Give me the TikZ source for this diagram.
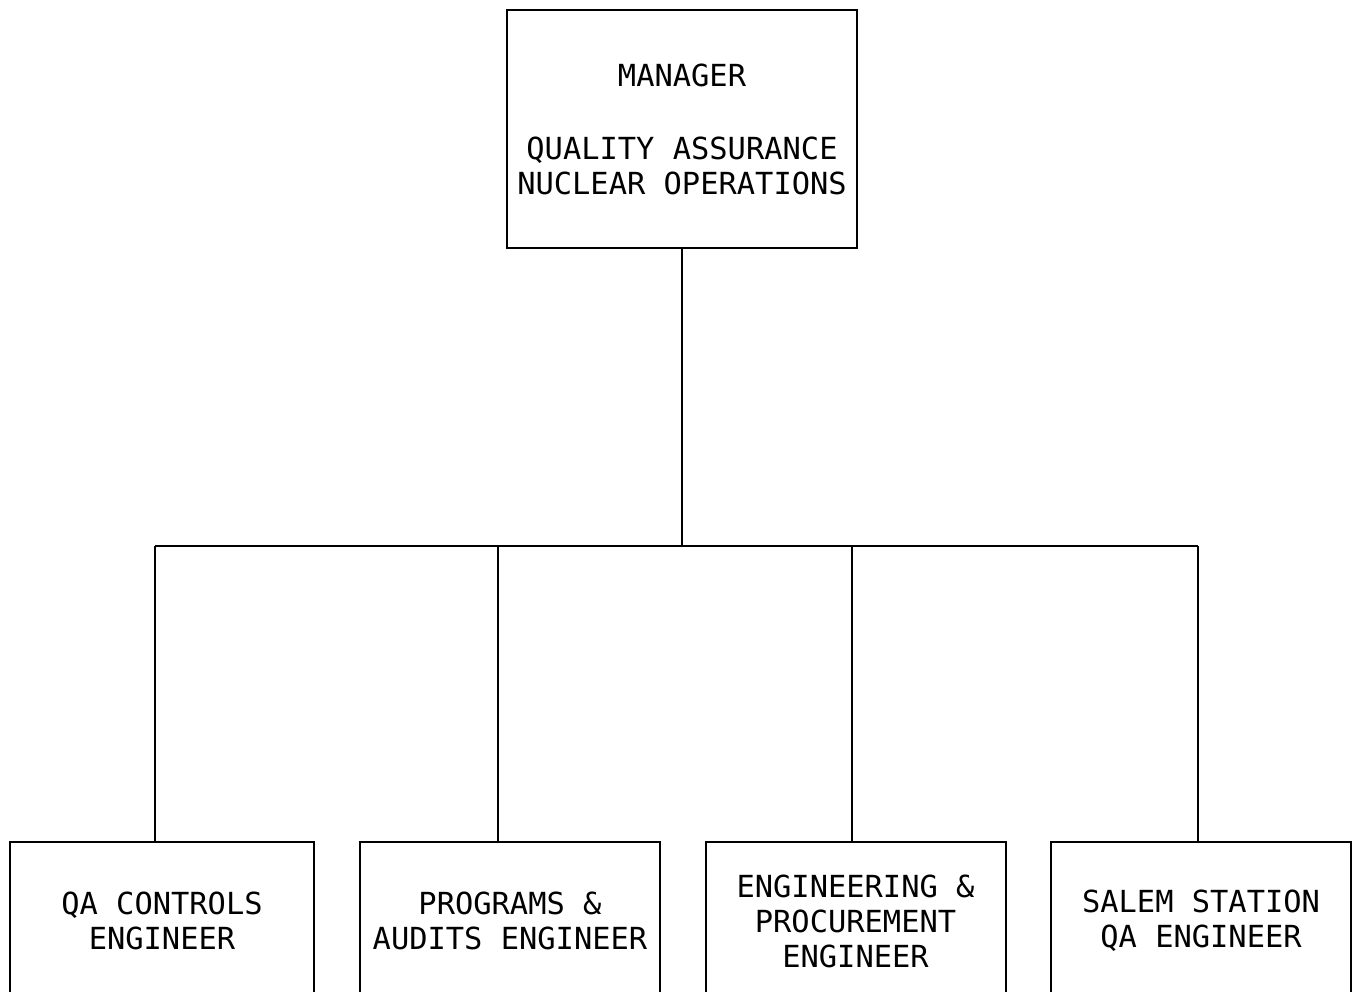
\documentclass[tikz,border=0pt]{standalone}
\usepackage{fontspec}
\setmonofont{DejaVu Sans Mono}
\usetikzlibrary{positioning}
\tikzset{>=latex}

\begin{document}
\begin{tikzpicture}[x=0.5pt,y=-0.5pt,
	box/.style={draw,line width=1pt,inner sep=0pt,align=center,
		font=\ttfamily\fontsize{15.2}{17.5}\selectfont},
	link/.style={line width=1pt}]
	\useasboundingbox (0,0) rectangle (1352,991);
	% top box
	\node[box,minimum width=175pt,minimum height=119pt] (mgr) at (682,129)
		{MANAGER\\[19pt]QUALITY ASSURANCE\\NUCLEAR OPERATIONS};
	% bottom row
	\node[box,minimum width=152pt,minimum height=79pt] (qa) at (162,921)
		{QA CONTROLS\\ENGINEER};
	\node[box,minimum width=150pt,minimum height=79pt] (prog) at (510,921)
		{PROGRAMS \&\\AUDITS ENGINEER};
	\node[box,minimum width=150pt,minimum height=79pt] (eng) at (855.5,921)
		{ENGINEERING \&\\PROCUREMENT\\ENGINEER};
	\node[box,minimum width=150pt,minimum height=79pt] (salem) at (1201,921)
		{SALEM STATION\\QA ENGINEER};
	% bus
	\coordinate (j1) at (155,546);
	\coordinate (j2) at (498,546);
	\coordinate (j3) at (852,546);
	\coordinate (j4) at (1198,546);
	\draw[link] (mgr.south) -- (mgr.south |- j1);
	\draw[link] (j1) -- (j4);
	\foreach \j/\b in {j1/qa,j2/prog,j3/eng,j4/salem}
		\draw[link] (\j) -- (\j |- \b.north);
\end{tikzpicture}
\end{document}
